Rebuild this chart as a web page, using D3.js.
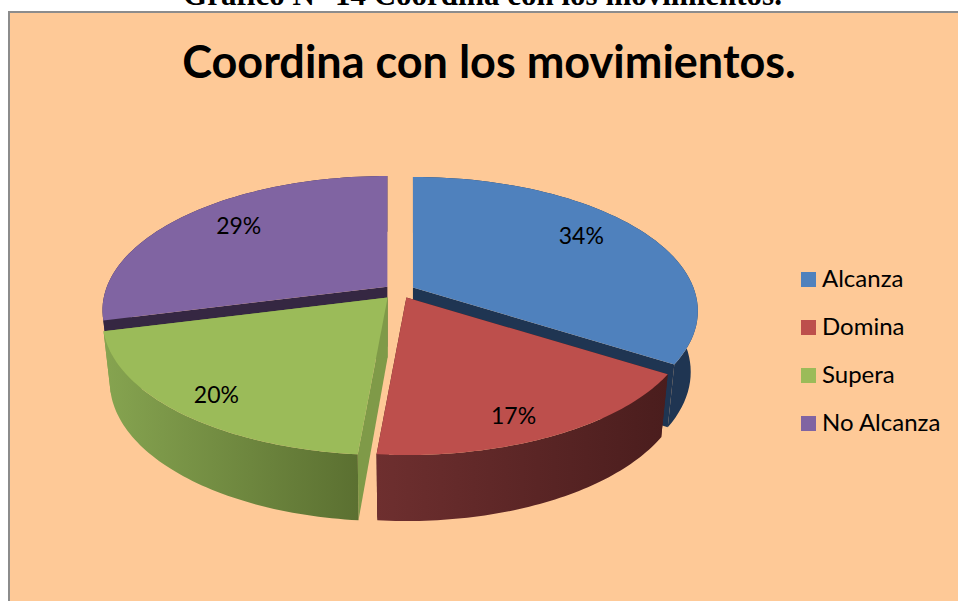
<!DOCTYPE html>
<html lang="es">
<head>
  <title>Coordina con los movimientos</title>
  <meta charset="UTF-8"/>
  <style>
    html, body { margin: 0; padding: 0; background: #fff; }
    svg { display: block; }
    text { fill: #000; }
  </style>
</head>
<body>
<svg id="chart" width="958" height="601"></svg>
<script src="https://cdn.jsdelivr.net/npm/d3@7/dist/d3.min.js"></script>
<script>
// chart data
var categories = ["Alcanza", "Domina", "Supera", "No Alcanza"];
var values = [34, 17.4, 19.6, 29];
var percentLabels = ["34%", "17%", "20%", "29%"];

// colours for each slice
var topColors  = ["#4f81bd", "#bd4f4c", "#9bbb59", "#8064a2"];
var cutColors  = ["#1f3552", "#4a1c1c", "#7f9a48", "#352742"];
var wallStops  = [["#1f3552", "#1f3552"], ["#6e2f2f", "#4a1d1d"], ["#86a450", "#5b7031"], ["#352742", "#352742"]];

// label placement on the disc, per slice
var labelRadius = [0.77, 0.857, 0.858, 0.764];
var labelTurn   = [-4.4, 3.7, -1.4, 3.2];
// how far each slice is pulled out of the pie
var explode = [0.055, 0.055, 0.065, 0.055];

var svg = d3.select("#chart");
var defs = svg.append("defs");

// chart frame
svg.append("rect").attr("x", 9).attr("y", 12).attr("width", 960).attr("height", 600)
    .attr("fill", "#fec997").attr("stroke", "#8c8c8c").attr("stroke-width", 2);

// heading above the chart, mostly cut off by the top of the page
svg.append("text").attr("x", 482.5).attr("y", 5)
    .attr("text-anchor", "middle")
    .style("font", "bold 31px 'Liberation Serif'")
    .text("Gráfico N° 14 Coordina con los movimientos.");

svg.append("text").attr("x", 489).attr("y", 78)
    .attr("text-anchor", "middle")
    .style("font", "bold 45px Lato")
    .text("Coordina con los movimientos.");

// projection of the tilted disc: front is nearer, so it draws larger
var cx = 399.5, cy = 291;
var rx = 280.5, ry = 130, persp = 0.175;
var depth = 60, bottomX = 0.975, bottomY = 1.038;

function local(a, r) {
  var p = 1 + persp * r * Math.cos(a);
  return [rx * r * Math.sin(a) / p, -ry * r * Math.cos(a) / p];
}
function topPoint(o, a, r) {
  var l = local(a, r);
  return [o[0] + l[0], o[1] + l[1]];
}
function bottomPoint(o, a, r) {
  var l = local(a, r);
  return [o[0] + l[0] * bottomX, o[1] + depth + l[1] * bottomY];
}
function arcAngles(d) {
  return d3.range(0, 61).map(function(i) { return d.startAngle + (d.endAngle - d.startAngle) * i / 60; });
}
function sliceOrigin(d, i) {
  var l = local((d.startAngle + d.endAngle) / 2, explode[i]);
  return [cx + l[0], cy + l[1]];
}

var pie = d3.pie().sort(null)(values);
var line = d3.line();

// painter's order: back slices first
var drawOrder = [3, 0, 2, 1];

drawOrder.forEach(function(i) {
  var d = pie[i];
  var o = sliceOrigin(d, i);
  var angles = arcAngles(d);
  var g = svg.append("g").attr("class", "slice");

  // flat faces of the cut
  [d.startAngle, d.endAngle].forEach(function(a) {
    g.append("path")
      .attr("d", line([o, topPoint(o, a, 1), bottomPoint(o, a, 1), bottomPoint(o, 0, 0)]) + "Z")
      .attr("fill", cutColors[i]);
  });

  // outer wall, one strip per arc step so the outline stays tangent at the sides
  var xs = angles.map(function(a) { return topPoint(o, a, 1)[0]; });
  var grad = defs.append("linearGradient").attr("id", "wall" + i)
      .attr("gradientUnits", "userSpaceOnUse")
      .attr("x1", d3.min(xs)).attr("x2", d3.max(xs)).attr("y1", 0).attr("y2", 0);
  grad.append("stop").attr("offset", 0).attr("stop-color", wallStops[i][0]);
  grad.append("stop").attr("offset", 1).attr("stop-color", wallStops[i][1]);
  var strips = d3.pairs(angles).map(function(s) {
    return line([topPoint(o, s[0], 1), topPoint(o, s[1], 1), bottomPoint(o, s[1], 1), bottomPoint(o, s[0], 1)]) + "Z";
  }).join("");
  g.append("path").attr("d", strips).attr("fill", "url(#wall" + i + ")");

  // top face
  var face = [o].concat(angles.map(function(a) { return topPoint(o, a, 1); }));
  g.append("path").attr("d", line(face) + "Z").attr("fill", topColors[i]);
});

// percent labels
pie.forEach(function(d, i) {
  var mid = (d.startAngle + d.endAngle) / 2;
  var p = topPoint(sliceOrigin(d, i), mid + labelTurn[i] * Math.PI / 180, labelRadius[i]);
  svg.append("text").attr("x", p[0]).attr("y", p[1] + 7.5)
    .attr("text-anchor", "middle")
    .style("font", "23px Lato")
    .text(percentLabels[i]);
});

// legend
var legendY = d3.scalePoint().domain(categories).range([279.5, 423.5]);
var legend = svg.selectAll(".legend").data(categories).enter().append("g")
    .attr("class", "legend")
    .attr("transform", function(d) { return "translate(801," + legendY(d) + ")"; });
legend.append("rect").attr("y", -7.5).attr("width", 15).attr("height", 15)
    .attr("fill", function(d, i) { return topColors[i]; });
legend.append("text").attr("x", 21).attr("y", 7.5)
    .style("font", "24px Lato")
    .text(function(d) { return d; });
</script>
</body>
</html>
